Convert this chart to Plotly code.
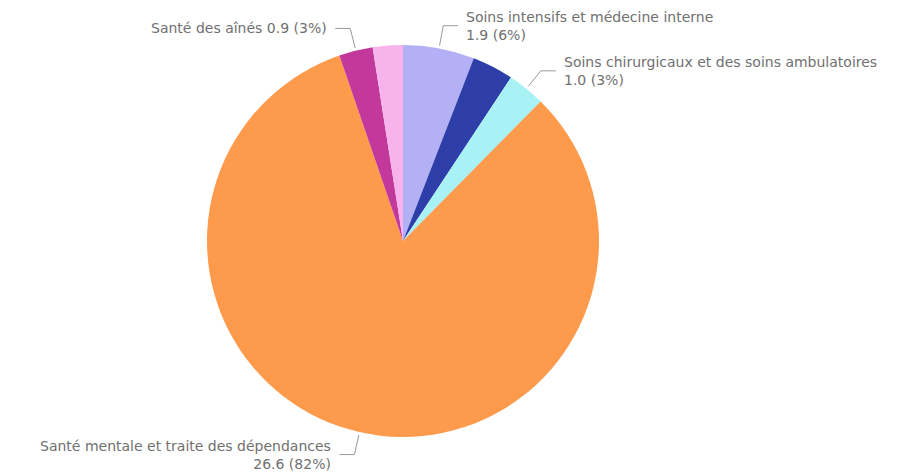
import math
import plotly.graph_objects as go

W, H = 920, 475

categories = [
    "Soins intensifs et médecine interne",
    "Autre 1",
    "Soins chirurgicaux et des soins ambulatoires",
    "Santé mentale et traite des dépendances",
    "Santé des aînés",
    "Autre 2",
]
values = [1.9, 1.1, 1.0, 26.6, 0.9, 0.8]
colors = ["#B4B0F5", "#2E3EA8", "#A8F1F5", "#FE9A4C", "#C2399B", "#F8B3EC"]
# which slices get a label: (index, side, two_lines)
labelled = [(0, "right", True), (2, "right", True), (3, "left", True), (4, "left", False)]

cx, cy, R = 403, 241, 196

fig = go.Figure(go.Pie(
    labels=categories, values=values, sort=False, direction="clockwise", rotation=0,
    marker=dict(colors=colors, line=dict(width=0)),
    textinfo="none", hoverinfo="label+value+percent", showlegend=False,
    domain=dict(x=[(cx - R) / W, (cx + R) / W], y=[1 - (cy + R) / H, 1 - (cy - R) / H]),
))

total = sum(values)
cum = 0
mids = []
for v in values:
    mids.append((cum + v / 2) / total * 2 * math.pi)
    cum += v

shapes, annotations = [], []
for i, side, two in labelled:
    a = mids[i]
    sx, sy = cx + (R + 3) * math.sin(a), cy - (R + 3) * math.cos(a)
    ex, ey = cx + 219 * math.sin(a), cy - 219 * math.cos(a)
    hx = ex + (15 if side == "right" else -15)
    path = f"M {sx/W},{1-sy/H} L {ex/W},{1-ey/H} L {hx/W},{1-ey/H}"
    shapes.append(dict(type="path", xref="paper", yref="paper", path=path,
                       line=dict(color="#9a9a9a", width=1)))
    v = values[i]
    val = f"{v:.1f} ({v/total:.0%})"
    txt = f"{categories[i]}<br>{val}" if two else f"{categories[i]} {val}"
    tx = hx + (6 if side == "right" else -6)
    annotations.append(dict(
        x=tx / W, y=1 - ey / H, xref="paper", yref="paper", text=txt, showarrow=False,
        xanchor="left" if side == "right" else "right", yanchor="middle",
        align="left" if side == "right" else "right",
        font=dict(family="DejaVu Sans", size=14, color="#707070"),
    ))

fig.update_layout(
    width=W, height=H, margin=dict(l=0, r=0, t=0, b=0),
    paper_bgcolor="white", plot_bgcolor="white",
    shapes=shapes, annotations=annotations,
)
fig.write_html("out.html", config={"displayModeBar": False},
               post_script="document.body.style.margin='0px';document.body.style.overflow='hidden';")
